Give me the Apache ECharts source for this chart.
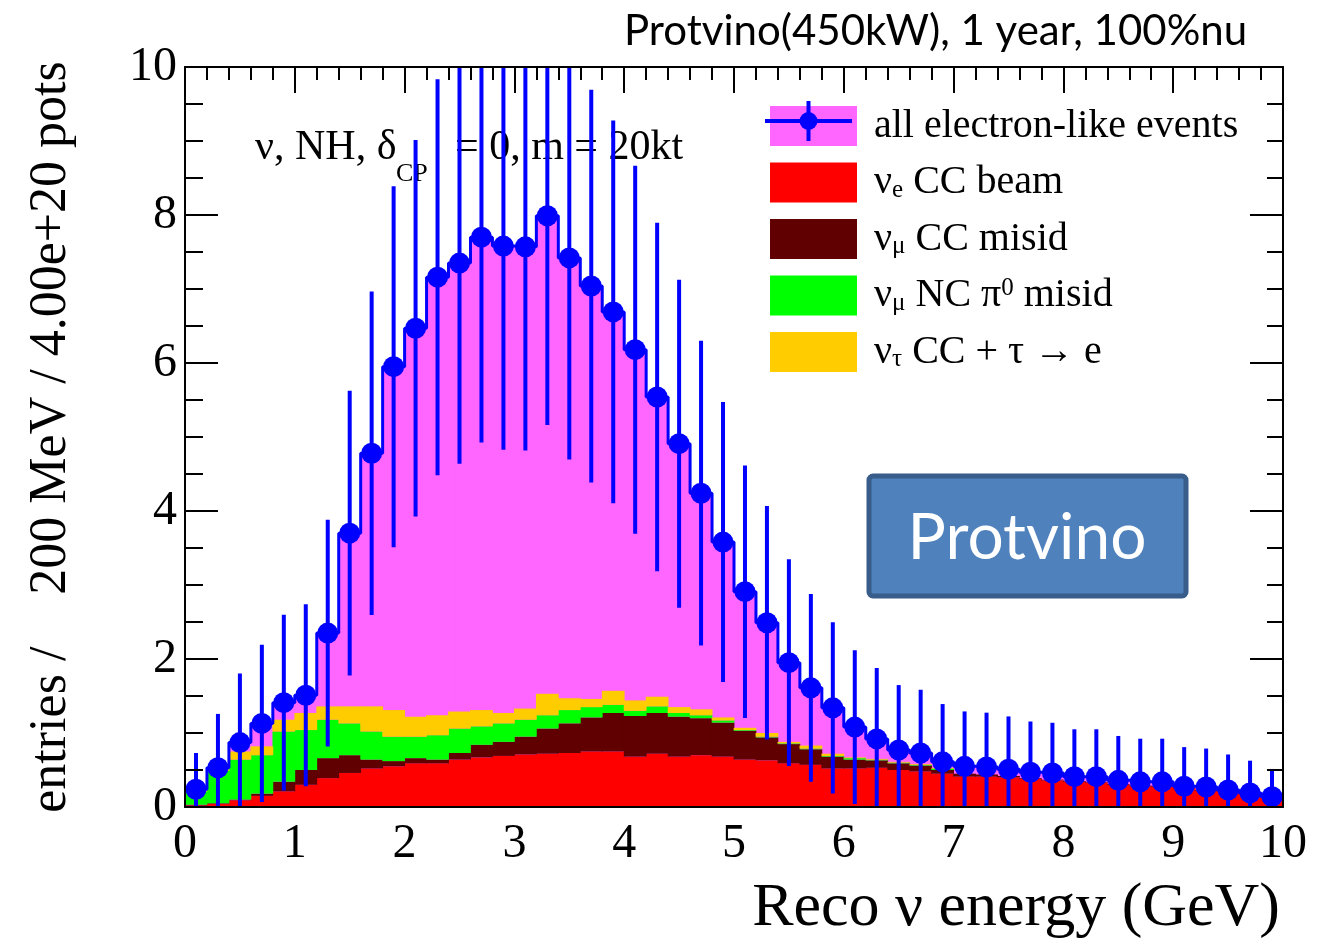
<!DOCTYPE html>
<html>
<head>
<meta charset="utf-8">
<script src="https://cdn.jsdelivr.net/npm/echarts@6/dist/echarts.min.js"></script>
<style>
html,body{margin:0;padding:0;background:#fff;}
#c{width:1327px;height:943px;}
</style>
</head>
<body>
<div id="c"></div>
<script>
// ---- data ----
const BIN_WIDTH = 0.2; // GeV
const binCenters = [0.1,0.3,0.5,0.7,0.9,1.1,1.3,1.5,1.7,1.9,2.1,2.3,2.5,2.7,2.9,3.1,3.3,3.5,3.7,3.9,
  4.1,4.3,4.5,4.7,4.9,5.1,5.3,5.5,5.7,5.9,6.1,6.3,6.5,6.7,6.9,7.1,7.3,7.5,7.7,7.9,
  8.1,8.3,8.5,8.7,8.9,9.1,9.3,9.5,9.7,9.9];
// all electron-like events (total)
const allEvents = [0.24,0.53,0.87,1.13,1.41,1.51,2.35,3.70,4.78,5.95,6.47,7.16,7.35,7.70,7.58,7.57,7.99,7.42,7.04,6.69,
  6.18,5.54,4.91,4.24,3.58,2.91,2.49,1.95,1.61,1.34,1.08,0.92,0.77,0.73,0.61,0.55,0.54,0.51,0.47,0.46,
  0.41,0.41,0.36,0.34,0.34,0.28,0.27,0.23,0.19,0.14];
// nu_e CC beam
const nueCC = [0.02,0.04,0.09,0.15,0.21,0.30,0.39,0.46,0.52,0.55,0.59,0.59,0.64,0.67,0.69,0.71,0.72,0.73,0.75,0.75,
  0.68,0.72,0.68,0.70,0.68,0.64,0.63,0.59,0.57,0.52,0.52,0.53,0.50,0.48,0.45,0.41,0.41,0.40,0.38,0.36,
  0.34,0.33,0.30,0.28,0.27,0.25,0.22,0.21,0.19,0.13];
// nu_mu CC misid
const numuCC = [0.01,0.01,0.01,0.03,0.13,0.20,0.27,0.24,0.12,0.07,0.07,0.05,0.09,0.17,0.19,0.24,0.34,0.40,0.46,0.52,
  0.55,0.55,0.54,0.50,0.46,0.39,0.31,0.26,0.21,0.16,0.12,0.10,0.09,0.08,0.05,0.04,0.03,0.02,0.01,0.01,
  0.01,0.01,0.01,0.01,0.01,0.01,0.01,0.01,0.01,0.01];
// nu_mu NC pi0 misid
const numuNC = [0.18,0.44,0.54,0.52,0.68,0.54,0.52,0.43,0.38,0.33,0.29,0.33,0.33,0.25,0.25,0.23,0.18,0.18,0.14,0.11,
  0.07,0.09,0.05,0.04,0.03,0.01,0.01,0.01,0.01,0.01,0.02,0.01,0.01,0.01,0.02,0.00,0.00,0.00,0.00,0.00,
  0.00,0.00,0.00,0.00,0.00,0.00,0.00,0.00,0.00,0.00];
// nu_tau CC + tau -> e
const nutauCC = [0.01,0.02,0.11,0.12,0.16,0.23,0.18,0.23,0.34,0.36,0.27,0.27,0.23,0.22,0.14,0.15,0.29,0.16,0.11,0.19,
  0.14,0.13,0.08,0.08,0.04,0.03,0.05,0.02,0.04,0.03,0.01,0.01,0.01,0.01,0.01,0.00,0.00,0.00,0.00,0.00,
  0.00,0.00,0.00,0.00,0.00,0.00,0.00,0.00,0.00,0.00];

const seriesNames = ['all electron-like events','\u03bde CC beam','\u03bd\u03bc CC misid','\u03bd\u03bc NC \u03c00 misid','\u03bd\u03c4 CC + \u03c4 \u2192 e'];
const legendRich = {
  'all electron-like events': 'all electron-like events',
  '\u03bde CC beam': '\u03bd{s|e} CC beam',
  '\u03bd\u03bc CC misid': '\u03bd{s|\u03bc} CC misid',
  '\u03bd\u03bc NC \u03c00 misid': '\u03bd{s|\u03bc} NC \u03c0{p|0} misid',
  '\u03bd\u03c4 CC + \u03c4 \u2192 e': '\u03bd{s|\u03c4} CC + \u03c4 \u2192 e'
};

// ---- build library data ----
const layers = [nueCC, numuCC, numuNC, nutauCC];
const layerColors = ['#ff0000','#600000','#00ff00','#ffcc00'];
function stackData(k){
  return binCenters.map((c,i)=>{
    let base = 0;
    for (let j=0;j<k;j++) base += layers[j][i];
    return [c, base, base + layers[k][i]];
  });
}
function histRect(params, api){
  const x = api.value(0), y0 = api.value(1), y1 = api.value(2);
  if (!(y1 > y0)) return null;
  const a = api.coord([x - BIN_WIDTH/2, y1]);
  const b = api.coord([x + BIN_WIDTH/2, y0]);
  return {type:'rect', shape:{x:a[0]-0.4, y:a[1], width:b[0]-a[0]+0.8, height:b[1]-a[1]},
          style:{fill: api.visual('color')}};
}
const totalData = binCenters.map((c,i)=>[c, 0, allEvents[i]]);
const stepData = binCenters.map((c,i)=>[c - BIN_WIDTH/2, allEvents[i]]);
stepData.push([binCenters[binCenters.length-1] + BIN_WIDTH/2, allEvents[allEvents.length-1]]);
const errData = binCenters.map((c,i)=>[c, allEvents[i], Math.sqrt(allEvents[i])]);

const BLUE = '#0000ff';
const serif = 'Liberation Serif';

const series = [];
series.push({
  name: seriesNames[0], type:'custom', renderItem: histRect, data: totalData,
  encode:{x:0, y:[1,2]}, itemStyle:{color:'#ff66ff'}, z:2, clip:true, silent:true
});
for (let k=0;k<4;k++){
  series.push({
    name: seriesNames[k+1], type:'custom', renderItem: histRect, data: stackData(k),
    encode:{x:0, y:[1,2]}, itemStyle:{color: layerColors[k]}, z:3, clip:true, silent:true
  });
}
series.push({
  name:'all electron-like events (outline)', type:'line', step:'end', data: stepData,
  symbol:'none', lineStyle:{color:BLUE, width:3}, z:4, clip:true, silent:true, animation:false
});
series.push({
  name:'all electron-like events (stat. error)', type:'custom', data: errData, z:5, clip:true, silent:true,
  encode:{x:0, y:1}, itemStyle:{color:BLUE},
  renderItem(params, api){
    const x = api.value(0), v = api.value(1), e = api.value(2);
    const c = api.coord([x, v]);
    const t = api.coord([x, Math.min(v + e, 10.5)]);
    const b = api.coord([x, Math.max(v - e, 0)]);
    return {type:'group', children:[
      {type:'line', shape:{x1:c[0], y1:t[1], x2:c[0], y2:b[1]}, style:{stroke:BLUE, lineWidth:4}},
      {type:'circle', shape:{cx:c[0], cy:c[1], r:10.5}, style:{fill:BLUE}}
    ]};
  }
});

const axisLineStyle = {color:'#000', width:2};
const option = {
  animation:false,
  backgroundColor:'#ffffff',
  title:{
    text:'Protvino(450kW), 1 year, 100%nu', left:619, top:5,
    textStyle:{fontFamily:'Lato', fontSize:42, fontWeight:'normal', color:'#000'}
  },
  grid:{left:185, right:44, top:67, bottom:136, containLabel:false},
  xAxis:[
    {type:'value', min:0, max:10, interval:1, position:'bottom', z:10,
     axisLine:{show:true, onZero:false, lineStyle:axisLineStyle},
     axisTick:{show:false}, minorTick:{show:false}, splitLine:{show:false},
     axisLabel:{fontFamily:serif, fontSize:48, color:'#000', margin:13},
     name:'Reco \u03bd energy (GeV)', nameLocation:'end', nameGap:-3,
     nameTextStyle:{fontFamily:serif, fontSize:62, color:'#000', align:'right', verticalAlign:'top', padding:[71,0,0,0]}},
    {type:'value', min:0, max:10, interval:1, position:'top', z:10,
     axisLine:{show:true, onZero:false, lineStyle:axisLineStyle},
     axisTick:{show:true, inside:true, length:26, lineStyle:axisLineStyle},
     minorTick:{show:true, splitNumber:5, length:13, lineStyle:axisLineStyle},
     axisLabel:{show:false}, splitLine:{show:false}}
  ],
  yAxis:[
    {type:'value', min:0, max:10, interval:2, position:'left', z:10,
     axisLine:{show:true, onZero:false, lineStyle:axisLineStyle},
     axisTick:{show:true, inside:true, length:33, lineStyle:axisLineStyle},
     minorTick:{show:true, splitNumber:4, length:18, lineStyle:axisLineStyle},
     splitLine:{show:false},
     axisLabel:{fontFamily:serif, fontSize:48, color:'#000', margin:8},
     name:'entries /    200 MeV / 4.00e+20 pots', nameLocation:'middle', nameGap:108,
     nameTextStyle:{fontFamily:serif, fontSize:52, color:'#000'}},
    {type:'value', min:0, max:10, interval:2, position:'right', z:10,
     axisLine:{show:true, onZero:false, lineStyle:axisLineStyle},
     axisTick:{show:true, inside:true, length:33, lineStyle:axisLineStyle},
     minorTick:{show:true, splitNumber:4, length:16, lineStyle:axisLineStyle},
     splitLine:{show:false}, axisLabel:{show:false}}
  ],
  legend:{
    orient:'vertical', left:765, top:101, itemWidth:87, itemHeight:40, itemGap:16.5,
    icon:'rect', selectedMode:false, data: seriesNames,
    formatter: n => legendRich[n],
    textStyle:{fontFamily:serif, fontSize:40, color:'#000', lineHeight:40, padding:[0,0,0,12],
      rich:{
        s:{fontFamily:serif, fontSize:25, color:'#000', verticalAlign:'bottom', lineHeight:22},
        p:{fontFamily:serif, fontSize:25, color:'#000', verticalAlign:'top', lineHeight:22}
      }}
  },
  graphic:[
    {type:'text', left:255, top:127, z:0, style:{text:'\u03bd, NH, \u03b4', font:'42px "Liberation Serif"', fill:'#000'}},
    {type:'text', left:396, top:161, z:0, style:{text:'CP', font:'26px "Liberation Serif"', fill:'#000'}},
    {type:'text', left:455, top:127, z:0, style:{text:'= 0, m = 20kt', font:'42px "Liberation Serif"', fill:'#000'}},
    // marker + bar drawn into the first legend swatch
    {type:'line', z:100, shape:{x1:765, y1:121, x2:852, y2:121}, style:{stroke:BLUE, lineWidth:4}},
    {type:'line', z:100, shape:{x1:808.5, y1:101, x2:808.5, y2:141}, style:{stroke:BLUE, lineWidth:4}},
    {type:'circle', z:100, shape:{cx:808.5, cy:121, r:9}, style:{fill:BLUE}},
    // Protvino box
    {type:'rect', z:100, shape:{x:869, y:476, width:317, height:120, r:4},
     style:{fill:'#4f81bd', stroke:'#385d8a', lineWidth:5}},
    {type:'text', z:101, x:1027, y:538, style:{text:'Protvino', font:'64px Lato', fill:'#ffffff',
      align:'center', verticalAlign:'middle', textAlign:'center', textVerticalAlign:'middle'}}
  ],
  series: series
};
const chart = echarts.init(document.getElementById('c'));
chart.setOption(option);
</script>
</body>
</html>
